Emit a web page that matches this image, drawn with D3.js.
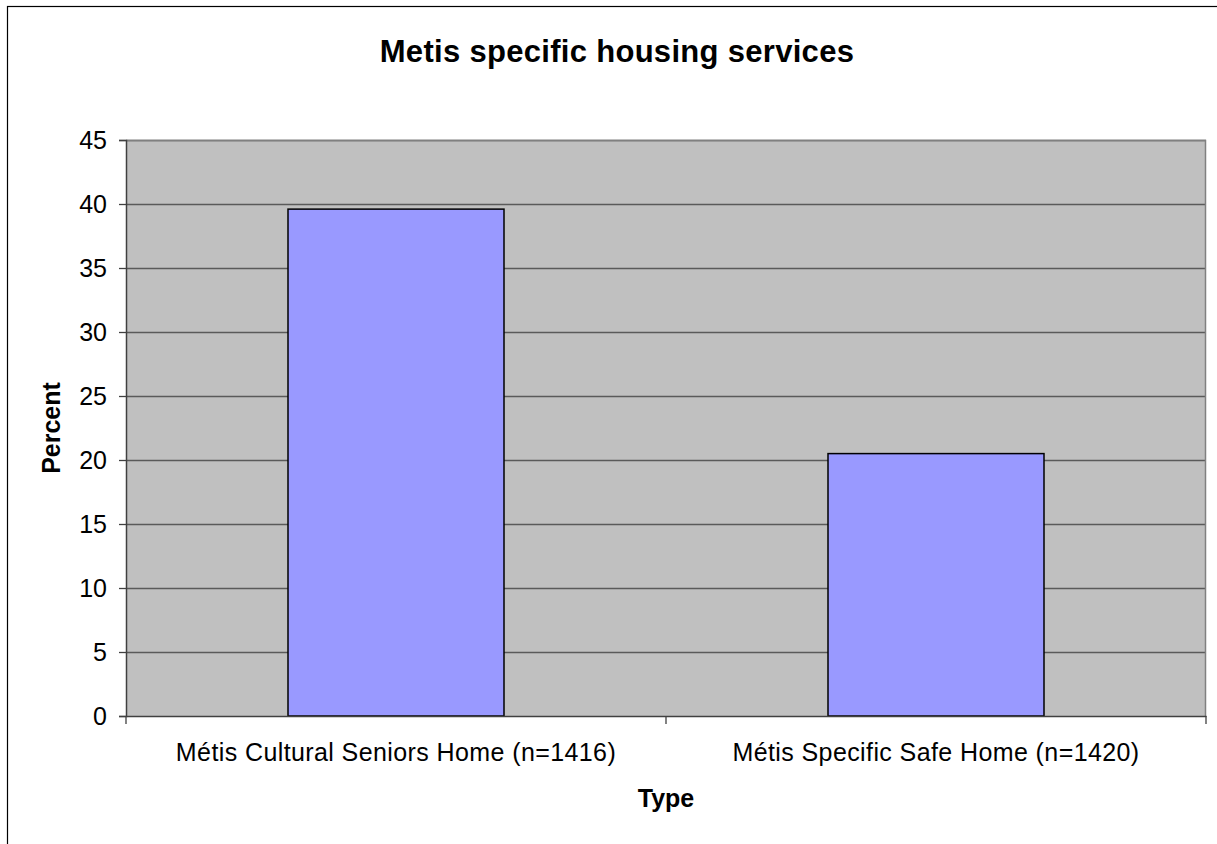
<!DOCTYPE html>
<html>
<head>
<meta charset="utf-8">
<script src="https://cdn.jsdelivr.net/npm/d3@7"></script>
<style>
  html, body { margin: 0; padding: 0; background: #fff; }
  svg { display: block; }
  text { font-family: "Liberation Sans", Arial, sans-serif; fill: #000; }
</style>
</head>
<body>
<svg id="chart" width="1217" height="844"></svg>
<script>
const categories = ["Métis Cultural Seniors Home (n=1416)", "Métis Specific Safe Home (n=1420)"];
const values = [39.6, 20.5];
const yTicks = [0, 5, 10, 15, 20, 25, 30, 35, 40, 45];
const titleText = "Metis specific housing services";
const xTitle = "Type";
const yTitle = "Percent";

const svg = d3.select("#chart");
const W = 1217, H = 844;
const plot = { left: 126, right: 1206, top: 140, bottom: 716 };

// outer chart border (right/bottom lie off-canvas)
svg.append("rect")
  .attr("x", 7.5).attr("y", 6.5)
  .attr("width", W + 20).attr("height", H + 20)
  .attr("fill", "#fff").attr("stroke", "#000").attr("stroke-width", 1.2);

const x = d3.scaleBand()
  .domain(categories)
  .range([plot.left, plot.right])
  .paddingInner(0.6)
  .paddingOuter(0.3);

const y = d3.scaleLinear().domain([0, 45]).range([plot.bottom, plot.top]);

// plot background
svg.append("rect")
  .attr("x", plot.left).attr("y", plot.top)
  .attr("width", plot.right - plot.left).attr("height", plot.bottom - plot.top)
  .attr("fill", "#C0C0C0");

// gridlines
svg.append("g").selectAll("line")
  .data(yTicks.filter(d => d > 0))
  .join("line")
  .attr("x1", plot.left).attr("x2", plot.right)
  .attr("y1", d => Math.round(y(d)) + 0.5).attr("y2", d => Math.round(y(d)) + 0.5)
  .attr("stroke", "#5a5a5a").attr("stroke-width", 1.3);

// plot border top/right
svg.append("path")
  .attr("d", `M${plot.left},${plot.top + 0.5}H${plot.right - 0.5}V${plot.bottom}`)
  .attr("fill", "none").attr("stroke", "#808080").attr("stroke-width", 1.5);

// bars
svg.append("g").selectAll("rect")
  .data(values)
  .join("rect")
  .attr("x", (d, i) => x(categories[i]))
  .attr("y", d => y(d))
  .attr("width", x.bandwidth())
  .attr("height", d => y(0) - y(d))
  .attr("fill", "#9999FF")
  .attr("stroke", "#000").attr("stroke-width", 1.5);

// y axis
const yAxis = d3.axisLeft(y).tickValues(yTicks).tickSize(7).tickPadding(12).tickFormat(d3.format("d"));
const gy = svg.append("g").attr("transform", `translate(${plot.left},0)`).call(yAxis);
gy.select(".domain").attr("stroke", "#404040").attr("stroke-width", 1.5);
gy.selectAll(".tick line").attr("stroke", "#404040").attr("stroke-width", 1.3);
gy.selectAll(".tick text")
  .style("font-family", '"Liberation Sans", Arial, sans-serif')
  .style("font-size", "25px").attr("fill", "#000");

// x axis
const xEdges = d3.scaleLinear().domain([0, categories.length]).range([plot.left, plot.right]);
const xAxis = d3.axisBottom(x).tickSize(0).tickPadding(30);
const gx = svg.append("g").attr("transform", `translate(0,${plot.bottom})`).call(xAxis);
gx.select(".domain").attr("stroke", "#404040").attr("stroke-width", 1.5);
gx.selectAll(".tick text")
  .style("font-family", '"Liberation Sans", Arial, sans-serif')
  .style("font-size", "25px").style("letter-spacing", "0.4px").attr("fill", "#000")
  .attr("dy", "0").attr("y", 45);
// category separator ticks
svg.append("g").selectAll("line")
  .data(d3.range(categories.length + 1))
  .join("line")
  .attr("x1", d => xEdges(d)).attr("x2", d => xEdges(d))
  .attr("y1", plot.bottom).attr("y2", plot.bottom + 8)
  .attr("stroke", "#404040").attr("stroke-width", 1.3);

// title
svg.append("text")
  .attr("x", 617).attr("y", 62)
  .attr("text-anchor", "middle")
  .style("font-size", "31px").style("font-weight", "bold").style("letter-spacing", "0.3px")
  .text(titleText);

// axis titles
svg.append("text")
  .attr("x", (plot.left + plot.right) / 2).attr("y", 807)
  .attr("text-anchor", "middle")
  .style("font-size", "25px").style("font-weight", "bold")
  .text(xTitle);

svg.append("text")
  .attr("transform", `translate(60,${(plot.top + plot.bottom) / 2}) rotate(-90)`)
  .attr("text-anchor", "middle")
  .style("font-size", "25px").style("font-weight", "bold")
  .text(yTitle);
</script>
</body>
</html>
